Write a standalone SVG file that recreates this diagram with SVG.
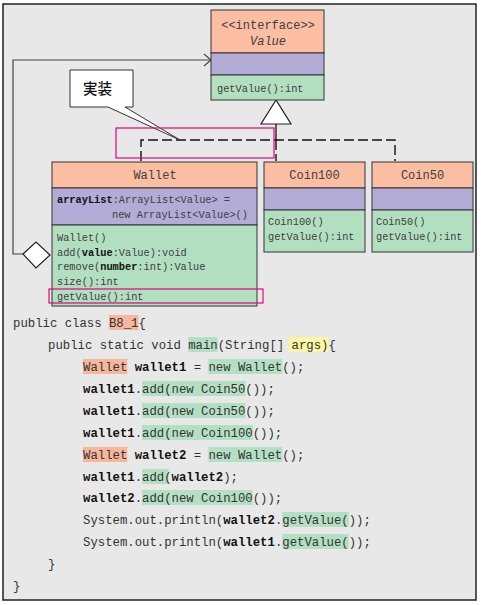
<svg xmlns="http://www.w3.org/2000/svg" width="481" height="605" viewBox="0 0 481 605">
<style>
.box{stroke:#333;stroke-width:1}
.hd{fill:#fbbea3}
.pu{fill:#b2acd6}
.gr{fill:#b3dfc1}
.ttl{font-family:"Liberation Mono",monospace;font-size:12px;fill:#404040}
.mem{font-family:"Liberation Mono",monospace;font-size:10.3px;fill:#404040}
.code{font-family:"Liberation Mono",monospace;font-size:12.3px;fill:#333}
.b{font-weight:bold;fill:#111}
.hlo{fill:#f8b79c}
.hlg{fill:#b3e0c3}
.hly{fill:#fbf6a6}
.mg{fill:none;stroke:#e6007e;stroke-width:1.2}
.ln{fill:none;stroke:#444;stroke-width:1.2}
.dash{fill:none;stroke:#111;stroke-width:1.4;stroke-dasharray:10,4}
</style>
<rect x="0" y="0" width="481" height="605" fill="#ffffff"/>
<rect x="3" y="4" width="473" height="596" fill="#e8e8e8" stroke="#222" stroke-width="1.5"/>

<g id="connectors">
  <polyline class="ln" points="23,254 13,254 13,60 210,60"/>
  <polyline class="ln" points="204,54 211,60 204,66"/>
  <line x1="276" y1="124" x2="276" y2="140" stroke="#111" stroke-width="1.3"/>
  <polyline class="dash" points="141,161 141,140 395,140 395,161"/>
  <line class="dash" x1="276" y1="140" x2="276" y2="161"/>
  <polygon points="276,100 261,124 291,124" fill="#fff" stroke="#222" stroke-width="1.2"/>
  <polygon points="23,254 36,242 50,255 36,268" fill="#fff" stroke="#222" stroke-width="1.2"/>
</g>

<g id="Value">
  <rect class="box hd" x="211" y="10" width="113" height="43"/>
  <rect class="box pu" x="211" y="53" width="113" height="22"/>
  <rect class="box gr" x="211" y="75" width="113" height="25"/>
  <text class="ttl" x="268" y="29" text-anchor="middle">&lt;&lt;interface&gt;&gt;</text>
  <text class="ttl" x="268" y="45" text-anchor="middle" font-style="italic">Value</text>
  <text class="mem" x="217" y="92">getValue():int</text>
</g>

<g id="Wallet">
  <rect class="box hd" x="52" y="162" width="205" height="26"/>
  <rect class="box pu" x="52" y="188" width="205" height="37"/>
  <rect class="box gr" x="52" y="225" width="205" height="81"/>
  <text class="ttl" x="155" y="179" text-anchor="middle">Wallet</text>
  <text class="mem" x="57" y="203"><tspan class="b">arrayList</tspan>:ArrayList&lt;Value&gt; =</text>
  <text class="mem" x="112" y="218">new ArrayList&lt;Value&gt;()</text>
  <text class="mem" x="57" y="241">Wallet()</text>
  <text class="mem" x="57" y="256">add(<tspan class="b">value</tspan>:Value):void</text>
  <text class="mem" x="57" y="270">remove(<tspan class="b">number</tspan>:int):Value</text>
  <text class="mem" x="57" y="285">size():int</text>
  <text class="mem" x="57" y="300">getValue():int</text>
</g>

<g id="Coin100">
  <rect class="box hd" x="264" y="162" width="101" height="26"/>
  <rect class="box pu" x="264" y="188" width="101" height="22"/>
  <rect class="box gr" x="264" y="210" width="101" height="42"/>
  <text class="ttl" x="314.5" y="179" text-anchor="middle">Coin100</text>
  <text class="mem" x="268" y="225">Coin100()</text>
  <text class="mem" x="268" y="240">getValue():int</text>
</g>

<g id="Coin50">
  <rect class="box hd" x="372" y="162" width="101" height="26"/>
  <rect class="box pu" x="372" y="188" width="101" height="22"/>
  <rect class="box gr" x="372" y="210" width="101" height="42"/>
  <text class="ttl" x="422.5" y="179" text-anchor="middle">Coin50</text>
  <text class="mem" x="376" y="225">Coin50()</text>
  <text class="mem" x="376" y="240">getValue():int</text>
</g>

<g id="callout">
  <path d="M70,70 H133 V107 H125 L180,140 L108,107 H70 Z" fill="#fff" stroke="#333" stroke-width="1"/>
  <text x="83" y="94" font-family="'Noto Sans CJK JP',sans-serif" font-size="14.5" font-weight="500" fill="#111">実装</text>
</g>

<g id="highlights">
  <rect class="mg" x="116" y="128" width="158" height="30"/>
  <rect class="mg" x="49" y="289" width="214" height="14"/>
</g>

<g id="code">
  <rect class="hlo" x="108.9" y="315" width="29.5" height="15"/>
  <rect class="hlg" x="188.2" y="337" width="29.5" height="15"/>
  <rect class="hly" x="288.6" y="337" width="39.9" height="15"/>
  <rect class="hlo" x="83" y="359" width="44.3" height="15"/>
  <rect class="hlg" x="208.5" y="359" width="73.8" height="15"/>
  <rect class="hlg" x="142" y="381" width="29.5" height="15"/>
  <rect class="hlg" x="171.6" y="381" width="73.8" height="15"/>
  <rect class="hlg" x="142" y="403" width="29.5" height="15"/>
  <rect class="hlg" x="171.6" y="403" width="73.8" height="15"/>
  <rect class="hlg" x="142" y="425" width="29.5" height="15"/>
  <rect class="hlg" x="171.6" y="425" width="81.2" height="15"/>
  <rect class="hlo" x="83" y="447" width="44.3" height="15"/>
  <rect class="hlg" x="208.5" y="447" width="73.8" height="15"/>
  <rect class="hlg" x="142" y="469" width="26.6" height="15"/>
  <rect class="hlg" x="142" y="490" width="29.5" height="15"/>
  <rect class="hlg" x="171.6" y="490" width="81.2" height="15"/>
  <rect class="hlg" x="282.3" y="512" width="66.4" height="15"/>
  <rect class="hlg" x="282.3" y="534" width="66.4" height="15"/>
  <text class="code" x="13" y="327">public class B8_1{</text>
  <text class="code" x="48" y="349">public static void main(String[] args){</text>
  <text class="code" x="83" y="371">Wallet <tspan class="b">wallet1</tspan> = new Wallet();</text>
  <text class="code" x="83" y="393"><tspan class="b">wallet1</tspan>.add(new Coin50());</text>
  <text class="code" x="83" y="415"><tspan class="b">wallet1</tspan>.add(new Coin50());</text>
  <text class="code" x="83" y="437"><tspan class="b">wallet1</tspan>.add(new Coin100());</text>
  <text class="code" x="83" y="459">Wallet <tspan class="b">wallet2</tspan> = new Wallet();</text>
  <text class="code" x="83" y="481"><tspan class="b">wallet1</tspan>.add(<tspan class="b">wallet2</tspan>);</text>
  <text class="code" x="83" y="502"><tspan class="b">wallet2</tspan>.add(new Coin100());</text>
  <text class="code" x="83" y="524">System.out.println(<tspan class="b">wallet2</tspan>.getValue());</text>
  <text class="code" x="83" y="546">System.out.println(<tspan class="b">wallet1</tspan>.getValue());</text>
  <text class="code" x="48" y="568">}</text>
  <text class="code" x="13" y="590">}</text>
</g>
</svg>
